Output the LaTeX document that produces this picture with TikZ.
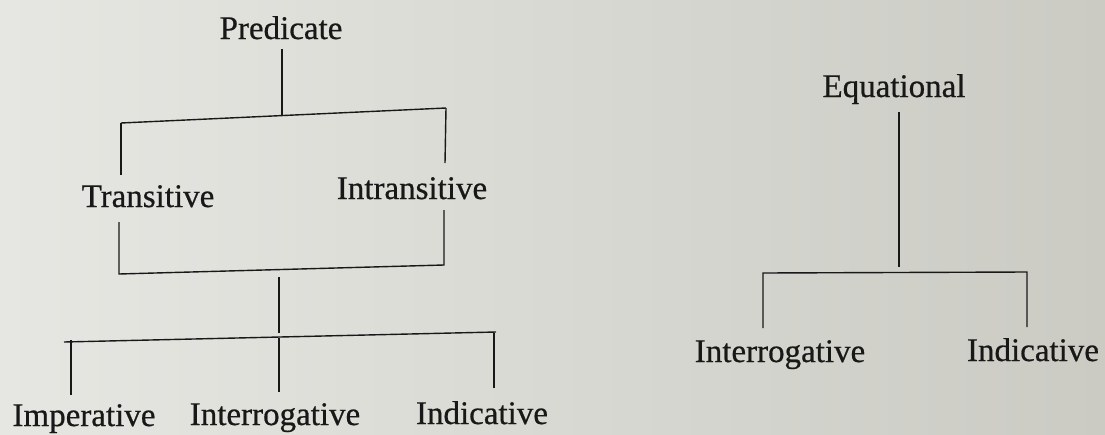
\documentclass[tikz,border=0pt]{standalone}
\usepackage{fontspec}
\setmainfont{Liberation Serif}
\newfontface\lblfont{Liberation Serif}[FakeBold=0.6]
\begin{document}
\begin{tikzpicture}[x=1pt,y=-1pt,
  lbl/.style={anchor=base,inner sep=0pt,text=ink,font=\lblfont\fontsize{33}{40}\selectfont},
  ln/.style={draw=ink,line width=1.4pt}]
\definecolor{ink}{RGB}{24,24,24}
\definecolor{paperL}{RGB}{230,231,226}
\definecolor{paperR}{RGB}{203,203,196}
\useasboundingbox (0,0) rectangle (1105,434);
\shade[left color=paperL,right color=paperR] (0,0) rectangle (1105,434);
% left tree
\node[lbl] (pred) at (281,39) {Predicate};
\node[lbl] (trans) at (148,207) {Transitive};
\node[lbl] (intr) at (412,199) {Intransitive};
\node[lbl] (imp) at (84,426) {Imperative};
\node[lbl] (int1) at (275,425) {Interrogative};
\node[lbl] (ind1) at (482,424) {Indicative};
\coordinate (p1) at (282,49);
\coordinate (p2) at (282,115);
\coordinate (b1l) at (121,123);
\coordinate (b1r) at (446,108);
\coordinate (t1) at (121,175);
\coordinate (i1) at (445,163);
\coordinate (t2) at (119,222);
\coordinate (i2) at (444,210);
\coordinate (b2l) at (119,274);
\coordinate (b2r) at (444,265);
\coordinate (m1) at (279,277);
\coordinate (m2) at (279,333);
\coordinate (b3l) at (64,342);
\coordinate (b3r) at (496,332);
\coordinate (c1a) at (71,340);
\coordinate (c1b) at (71,395);
\coordinate (c2a) at (279,338);
\coordinate (c2b) at (279,392);
\coordinate (c3a) at (494,333);
\coordinate (c3b) at (494,388);
\draw[ln] (p1) -- (p2);
\draw[ln] (b1l) -- (b1r);
\draw[ln] (b1l) -- (t1);
\draw[ln] (b1r) -- (i1);
\draw[ln] (t2) -- (b2l) -- (b2r) -- (i2);
\draw[ln] (m1) -- (m2);
\draw[ln] (b3l) -- (b3r);
\draw[ln] (c1a) -- (c1b);
\draw[ln] (c2a) -- (c2b);
\draw[ln] (c3a) -- (c3b);
% right tree
\node[lbl] (eq) at (894,97) {Equational};
\node[lbl] (int2) at (780,362) {Interrogative};
\node[lbl] (ind2) at (1033,361) {Indicative};
\coordinate (e1) at (899,112);
\coordinate (e2) at (899,267);
\coordinate (e3l) at (763,273);
\coordinate (e3r) at (1027,272);
\coordinate (e4l) at (763,328);
\coordinate (e4r) at (1027,327);
\draw[ln] (e1) -- (e2);
\draw[ln] (e4l) -- (e3l) -- (e3r) -- (e4r);
\end{tikzpicture}
\end{document}
